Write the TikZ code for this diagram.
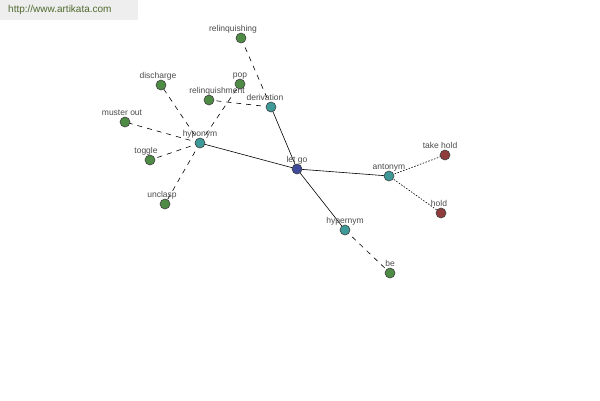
\documentclass[tikz,border=0pt]{standalone}
\usepackage{fontspec}
\setmainfont{Liberation Sans}
\begin{document}
\begin{tikzpicture}[x=1pt,y=-1pt,
  every node/.style={inner sep=0pt},
  vtx/.style={circle,draw=black!75,line width=0.6pt,minimum size=10pt},
  green/.style={vtx,fill=gnode},
  teal/.style={vtx,fill=tnode},
  navy/.style={vtx,fill=nnode},
  red/.style={vtx,fill=rnode},
  lab/.style={font=\fontsize{8.5}{10}\selectfont,text=black!70,anchor=base},
  rel/.style={line width=0.6pt,black},
  dashrel/.style={rel,dash pattern=on 5pt off 5pt},
  dotrel/.style={rel,dash pattern=on 1.5pt off 1.5pt}]
\definecolor{gnode}{HTML}{4E8C46}
\definecolor{tnode}{HTML}{3E9A98}
\definecolor{nnode}{HTML}{3F4A9A}
\definecolor{rnode}{HTML}{8E3C3C}
\definecolor{wm}{HTML}{EEEEEE}
\definecolor{wmtext}{HTML}{4F6A2E}
\useasboundingbox[fill=white] (0,0) rectangle (600,400);
\fill[wm] (0,0) rectangle (138,20);
\node[anchor=west,font=\fontsize{10}{12}\selectfont,text=wmtext] (wmark) at (8,10) {http://www.artikata.com};
% vertices
\coordinate (Pletgo) at (297,169);
\coordinate (Phyponym) at (200,143);
\coordinate (Pderivation) at (271,107);
\coordinate (Pantonym) at (389,176);
\coordinate (Phypernym) at (345,230);
\coordinate (Prelinquishing) at (241,38);
\coordinate (Ppop) at (240,84);
\coordinate (Prelinquishment) at (209,100);
\coordinate (Pdischarge) at (161,85);
\coordinate (Pmuster) at (125,122);
\coordinate (Ptoggle) at (150,160);
\coordinate (Punclasp) at (165,204);
\coordinate (Ptakehold) at (445,155);
\coordinate (Phold) at (441,213);
\coordinate (Pbe) at (390,273);
% edges (drawn between vertex centres, vertices on top)
\draw[rel] (Pletgo) -- (Pderivation);
\draw[rel] (Pletgo) -- (Phyponym);
\draw[rel] (Pletgo) -- (Pantonym);
\draw[rel] (Pletgo) -- (Phypernym);
\draw[dashrel] (Phyponym) -- (Pdischarge);
\draw[dashrel] (Phyponym) -- (Pmuster);
\draw[dashrel] (Phyponym) -- (Ptoggle);
\draw[dashrel] (Phyponym) -- (Punclasp);
\draw[dashrel] (Phyponym) -- (Ppop);
\draw[dashrel] (Pderivation) -- (Prelinquishing);
\draw[dashrel] (Pderivation) -- (Prelinquishment);
\draw[dashrel] (Phypernym) -- (Pbe);
\draw[dotrel] (Pantonym) -- (Ptakehold);
\draw[dotrel] (Pantonym) -- (Phold);
% labels
\node[lab] (Lletgo) at ([yshift=7]Pletgo) {let go};
\node[lab] (Lhyponym) at ([yshift=7]Phyponym) {hyponym};
\node[lab] (Lderivation) at ([xshift=-6,yshift=7]Pderivation) {derivation};
\node[lab] (Lantonym) at ([yshift=7]Pantonym) {antonym};
\node[lab] (Lhypernym) at ([yshift=7]Phypernym) {hypernym};
\node[lab] (Lrelinquishing) at ([xshift=-8,yshift=7]Prelinquishing) {relinquishing};
\node[lab] (Lpop) at ([yshift=7]Ppop) {pop};
\node[lab] (Lrelinquishment) at ([xshift=8,yshift=7]Prelinquishment) {relinquishment};
\node[lab] (Ldischarge) at ([xshift=-3,yshift=7]Pdischarge) {discharge};
\node[lab] (Lmuster) at ([xshift=-3,yshift=7]Pmuster) {muster out};
\node[lab] (Ltoggle) at ([xshift=-4,yshift=7]Ptoggle) {toggle};
\node[lab] (Lunclasp) at ([xshift=-3,yshift=7]Punclasp) {unclasp};
\node[lab] (Ltakehold) at ([xshift=-5,yshift=7]Ptakehold) {take hold};
\node[lab] (Lhold) at ([xshift=-2,yshift=7]Phold) {hold};
\node[lab] (Lbe) at ([yshift=7]Pbe) {be};
% vertex nodes
\node[navy] (letgo) at (Pletgo) {};
\node[teal] (hyponym) at (Phyponym) {};
\node[teal] (derivation) at (Pderivation) {};
\node[teal] (antonym) at (Pantonym) {};
\node[teal] (hypernym) at (Phypernym) {};
\node[green] (relinquishing) at (Prelinquishing) {};
\node[green] (pop) at (Ppop) {};
\node[green] (relinquishment) at (Prelinquishment) {};
\node[green] (discharge) at (Pdischarge) {};
\node[green] (muster) at (Pmuster) {};
\node[green] (toggle) at (Ptoggle) {};
\node[green] (unclasp) at (Punclasp) {};
\node[red] (takehold) at (Ptakehold) {};
\node[red] (hold) at (Phold) {};
\node[green] (be) at (Pbe) {};
\end{tikzpicture}
\end{document}
